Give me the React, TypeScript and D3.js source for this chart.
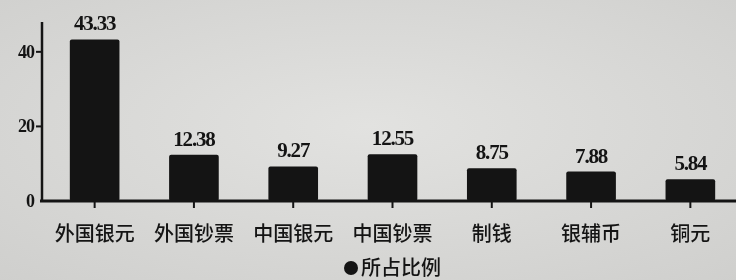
import React from "react";
import * as d3 from "d3";

const categories = ["外国银元", "外国钞票", "中国银元", "中国钞票", "制钱", "银辅币", "铜元"];
const values = [43.33, 12.38, 9.27, 12.55, 8.75, 7.88, 5.84];
const valueLabels = ["43.33", "12.38", "9.27", "12.55", "8.75", "7.88", "5.84"];
const yTicks = [0, 20, 40];
const legendLabel = "所占比例";

const W = 736;
const H = 280;

export default function App() {
  const x = d3.scaleBand<string>().domain(categories).range([45, 740]).paddingInner(0.5).paddingOuter(0.25);
  const y = d3.scaleLinear().domain([0, 48]).range([201, 22]);
  const serif = "'Liberation Serif', 'DejaVu Serif', serif";
  const cjk = "'Noto Sans CJK SC', sans-serif";
  const ink = "#141414";
  return (
    <svg width={W} height={H} style={{ position: "fixed", left: 0, top: 0 }}>
      <defs>
        <radialGradient id="bg" cx="50%" cy="45%" r="75%">
          <stop offset="0%" stopColor="#e2e2e0" />
          <stop offset="100%" stopColor="#cfcfcd" />
        </radialGradient>
      </defs>
      <rect x={0} y={0} width={W} height={H} fill="url(#bg)" />
      {/* y axis */}
      <line x1={42} x2={42} y1={y(48)} y2={y(0)} stroke={ink} strokeWidth={2.5} />
      {yTicks.map((t) => (
        <g key={t}>
          {t > 0 && <line x1={36} x2={42} y1={y(t)} y2={y(t)} stroke={ink} strokeWidth={2} />}
          <text x={34} y={y(t) + 6} textAnchor="end" fontFamily={serif} fontWeight={700} fontSize={18} fill={ink} letterSpacing={-1}>
            {t}
          </text>
        </g>
      ))}
      {/* bars */}
      {categories.map((c, i) => {
        const bx = x(c)!;
        const bw = x.bandwidth();
        const cx = bx + bw / 2;
        return (
          <g key={c}>
            <rect x={bx} y={y(values[i])} width={bw} height={y(0) - y(values[i])} fill={ink} rx={2} />
            <text x={cx} y={y(values[i]) - 9} textAnchor="middle" fontFamily={serif} fontWeight={700} fontSize={21} fill={ink} letterSpacing={-1.2}>
              {valueLabels[i]}
            </text>
            <line x1={cx} x2={cx} y1={y(0)} y2={y(0) + 7} stroke={ink} strokeWidth={2} />
            <text x={cx} y={241} textAnchor="middle" fontFamily={cjk} fontWeight={500} fontSize={20} fill={ink}>
              {c}
            </text>
          </g>
        );
      })}
      {/* x axis */}
      <line x1={40} x2={W} y1={y(0)} y2={y(0)} stroke={ink} strokeWidth={3} />
      {/* legend */}
      <circle cx={351} cy={268} r={7} fill={ink} />
      <text x={361} y={275} fontFamily={cjk} fontWeight={500} fontSize={20} fill={ink}>
        {legendLabel}
      </text>
    </svg>
  );
}
